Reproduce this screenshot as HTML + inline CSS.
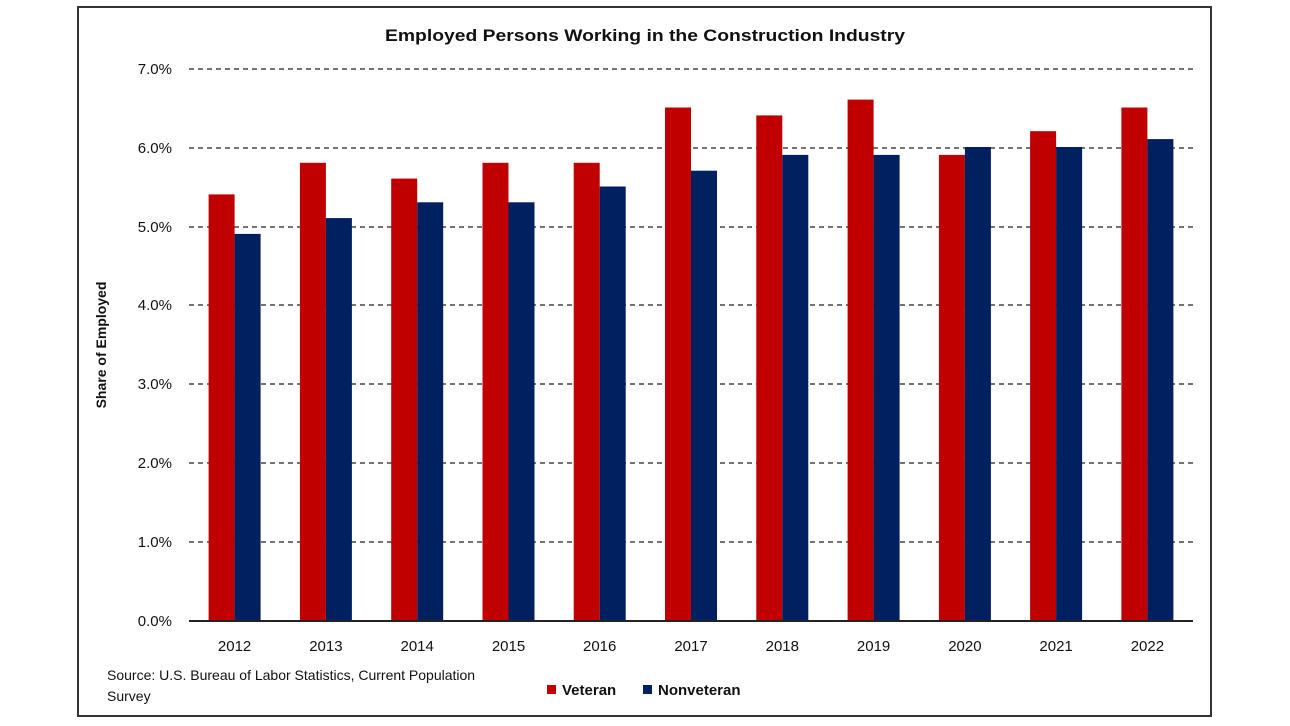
<!DOCTYPE html>
<html><head><style>
html,body{margin:0;padding:0;background:#fff;}
svg{display:block;}
text{font-family:"Liberation Sans",Arial,sans-serif;fill:#111;}
</style></head><body>
<svg width="1290" height="726" viewBox="0 0 1290 726" xmlns="http://www.w3.org/2000/svg">
<rect x="78" y="7" width="1133" height="709" fill="#fff" stroke="#333" stroke-width="2"/>
<text x="645" y="41" text-anchor="middle" font-size="17" font-weight="bold" textLength="520" lengthAdjust="spacingAndGlyphs">Employed Persons Working in the Construction Industry</text>
<g stroke="#222" stroke-width="1.3" stroke-dasharray="5,4">
<line x1="189" y1="69" x2="1193" y2="69"/>
<line x1="189" y1="148" x2="1193" y2="148"/>
<line x1="189" y1="227" x2="1193" y2="227"/>
<line x1="189" y1="305" x2="1193" y2="305"/>
<line x1="189" y1="384" x2="1193" y2="384"/>
<line x1="189" y1="463" x2="1193" y2="463"/>
<line x1="189" y1="542" x2="1193" y2="542"/>
</g>
<g font-size="15" text-anchor="end">
<text x="172" y="74">7.0%</text>
<text x="172" y="153">6.0%</text>
<text x="172" y="232">5.0%</text>
<text x="172" y="310">4.0%</text>
<text x="172" y="389">3.0%</text>
<text x="172" y="468">2.0%</text>
<text x="172" y="547">1.0%</text>
<text x="172" y="626">0.0%</text>
</g>
<text transform="translate(106,345) rotate(-90)" text-anchor="middle" font-size="14" font-weight="bold">Share of Employed</text>
<g fill="#C00000">
<rect x="208.6" y="194.4" width="26" height="426.6"/>
<rect x="299.9" y="162.8" width="26" height="458.2"/>
<rect x="391.2" y="178.6" width="26" height="442.4"/>
<rect x="482.5" y="162.8" width="26" height="458.2"/>
<rect x="573.7" y="162.8" width="26" height="458.2"/>
<rect x="665.0" y="107.5" width="26" height="513.5"/>
<rect x="756.3" y="115.4" width="26" height="505.6"/>
<rect x="847.6" y="99.6" width="26" height="521.4"/>
<rect x="938.9" y="154.9" width="26" height="466.1"/>
<rect x="1030.1" y="131.2" width="26" height="489.8"/>
<rect x="1121.4" y="107.5" width="26" height="513.5"/>
</g>
<g fill="#002060">
<rect x="234.6" y="233.9" width="26" height="387.1"/>
<rect x="325.9" y="218.1" width="26" height="402.9"/>
<rect x="417.2" y="202.3" width="26" height="418.7"/>
<rect x="508.5" y="202.3" width="26" height="418.7"/>
<rect x="599.7" y="186.5" width="26" height="434.5"/>
<rect x="691.0" y="170.7" width="26" height="450.3"/>
<rect x="782.3" y="154.9" width="26" height="466.1"/>
<rect x="873.6" y="154.9" width="26" height="466.1"/>
<rect x="964.9" y="147" width="26" height="474"/>
<rect x="1056.1" y="147" width="26" height="474"/>
<rect x="1147.4" y="139.1" width="26" height="481.9"/>
</g>
<line x1="189" y1="621" x2="1193" y2="621" stroke="#222" stroke-width="2"/>
<g font-size="15" text-anchor="middle">
<text x="234.6" y="651">2012</text>
<text x="325.9" y="651">2013</text>
<text x="417.2" y="651">2014</text>
<text x="508.5" y="651">2015</text>
<text x="599.7" y="651">2016</text>
<text x="691.0" y="651">2017</text>
<text x="782.3" y="651">2018</text>
<text x="873.6" y="651">2019</text>
<text x="964.9" y="651">2020</text>
<text x="1056.1" y="651">2021</text>
<text x="1147.4" y="651">2022</text>
</g>
<text x="107" y="680" font-size="14">Source: U.S. Bureau of Labor Statistics, Current Population</text>
<text x="107" y="701" font-size="14">Survey</text>
<rect x="547" y="685" width="9" height="9" fill="#C00000"/>
<text x="562" y="695" font-size="15" font-weight="bold">Veteran</text>
<rect x="643" y="685" width="9" height="9" fill="#002060"/>
<text x="658" y="695" font-size="15" font-weight="bold">Nonveteran</text>
</svg>
</body></html>
